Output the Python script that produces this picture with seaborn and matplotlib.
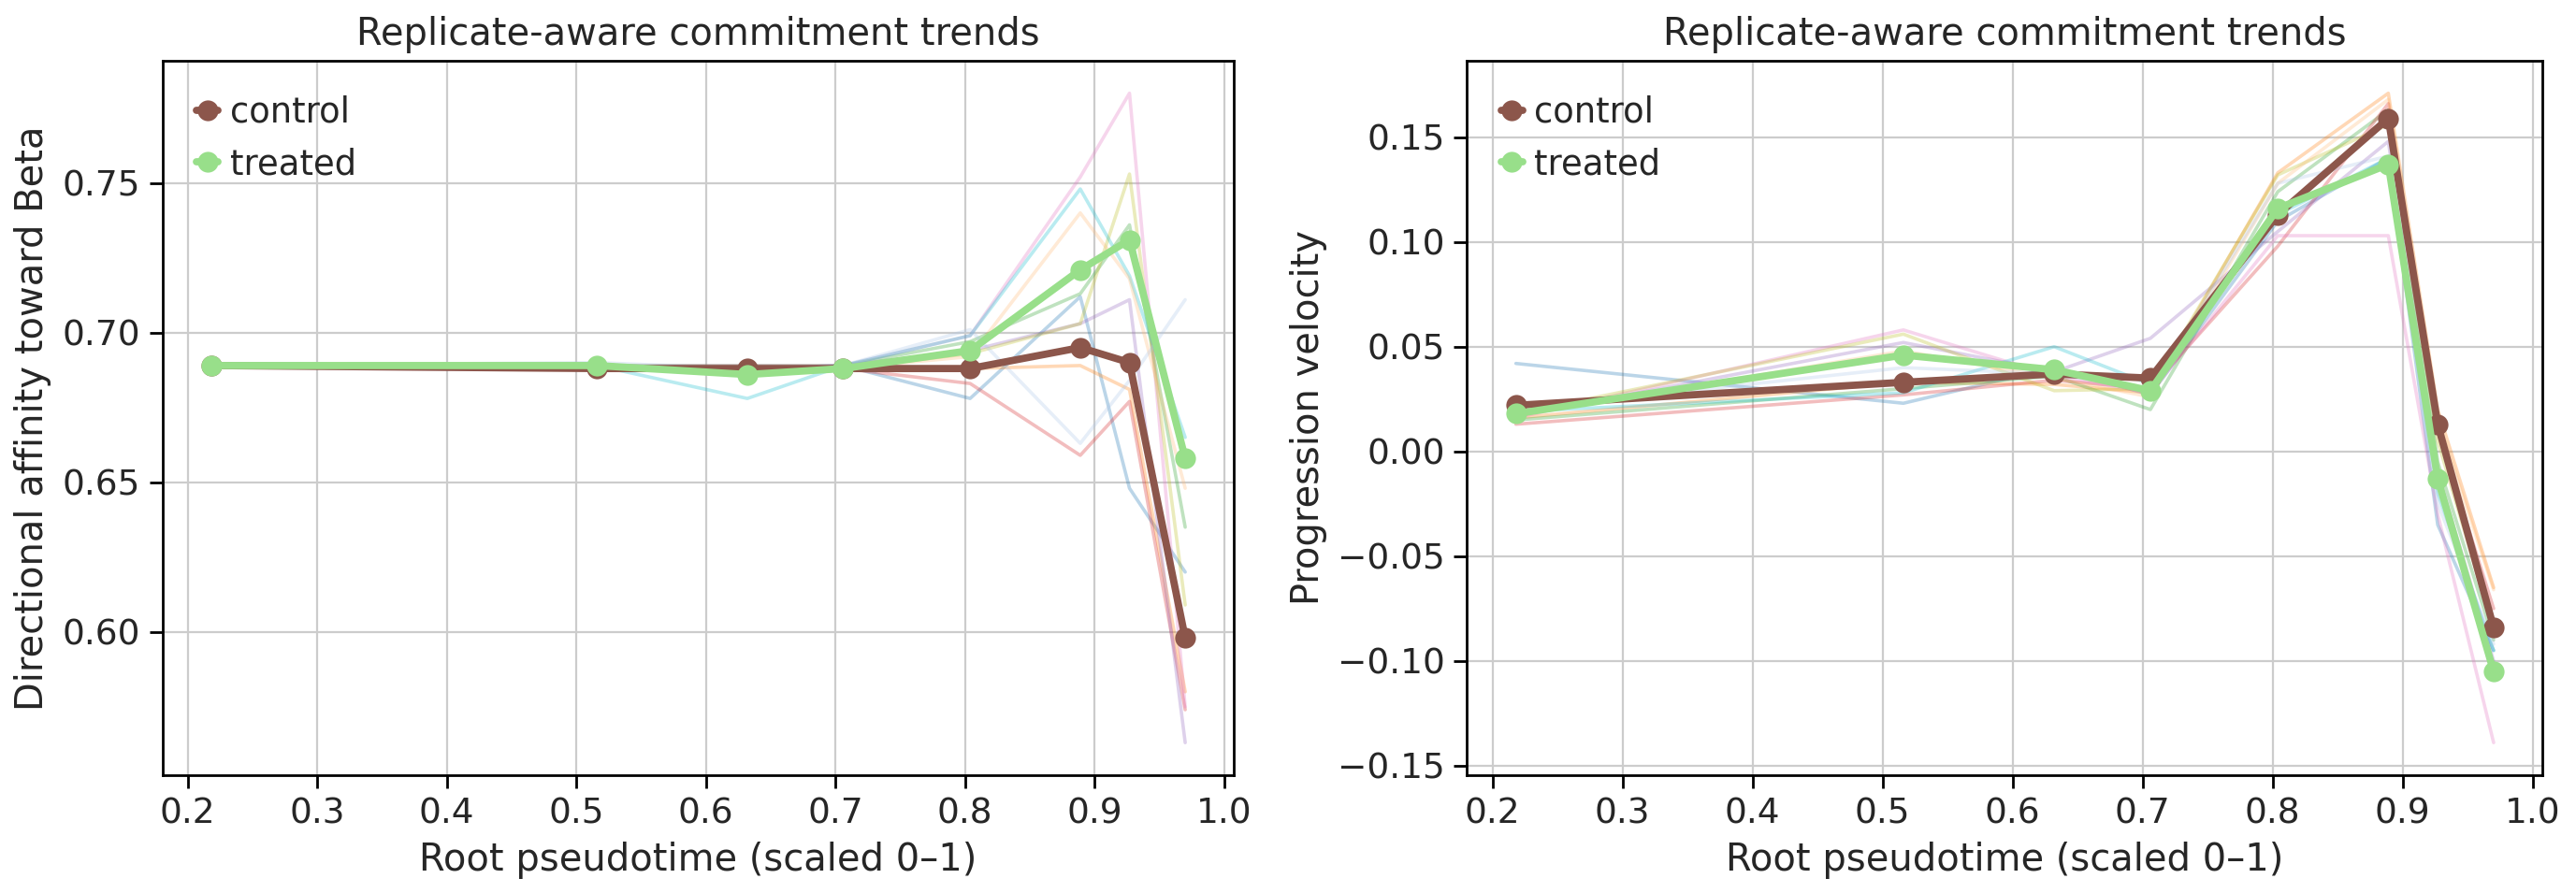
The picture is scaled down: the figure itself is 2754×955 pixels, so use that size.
import numpy as np
import pandas as pd
import matplotlib
matplotlib.use("Agg")
import matplotlib.pyplot as plt
import seaborn as sns

# pseudotime bins (scaled 0-1)
pseudotime = [0.218, 0.516, 0.632, 0.706, 0.804, 0.889, 0.927, 0.970]

# condition means
affinity_control = [0.689, 0.688, 0.688, 0.688, 0.688, 0.695, 0.690, 0.598]
affinity_treated = [0.689, 0.689, 0.686, 0.688, 0.694, 0.721, 0.731, 0.658]
velocity_control = [0.022, 0.033, 0.037, 0.035, 0.113, 0.159, 0.013, -0.084]
velocity_treated = [0.018, 0.046, 0.039, 0.029, 0.116, 0.137, -0.013, -0.105]

# individual replicate traces (faint)
rep_colors = ["#1f77b4", "#ff7f0e", "#2ca02c", "#d62728", "#9467bd",
              "#e377c2", "#bcbd22", "#17becf", "#ffbb78", "#aec7e8"]

affinity_reps = [
    [0.689, 0.689, 0.688, 0.689, 0.678, 0.712, 0.648, 0.620],  # blue
    [0.689, 0.688, 0.688, 0.688, 0.688, 0.689, 0.681, 0.580],  # orange
    [0.689, 0.689, 0.689, 0.689, 0.697, 0.713, 0.736, 0.635],  # green
    [0.689, 0.688, 0.688, 0.688, 0.683, 0.659, 0.677, 0.574],  # red
    [0.689, 0.689, 0.688, 0.689, 0.694, 0.703, 0.711, 0.563],  # purple
    [0.689, 0.689, 0.689, 0.689, 0.699, 0.752, 0.780, 0.575],  # pink
    [0.689, 0.689, 0.688, 0.688, 0.693, 0.703, 0.753, 0.609],  # olive
    [0.689, 0.689, 0.678, 0.689, 0.699, 0.748, 0.719, 0.665],  # cyan
    [0.689, 0.688, 0.688, 0.688, 0.692, 0.740, 0.718, 0.648],  # peach
    [0.689, 0.690, 0.688, 0.689, 0.701, 0.663, 0.684, 0.711],  # light blue
]

velocity_reps = [
    [0.042, 0.023, 0.040, 0.027, 0.110, 0.140, -0.035, -0.095],
    [0.016, 0.033, 0.032, 0.028, 0.133, 0.171, 0.020, -0.065],
    [0.015, 0.030, 0.036, 0.020, 0.124, 0.163, -0.005, -0.090],
    [0.013, 0.027, 0.034, 0.030, 0.098, 0.166, 0.010, -0.075],
    [0.017, 0.052, 0.038, 0.054, 0.105, 0.148, -0.010, -0.100],
    [0.016, 0.058, 0.036, 0.028, 0.103, 0.103, -0.030, -0.139],
    [0.018, 0.056, 0.029, 0.030, 0.132, 0.156, 0.005, -0.085],
    [0.019, 0.028, 0.050, 0.032, 0.113, 0.140, -0.020, -0.095],
    [0.017, 0.048, 0.035, 0.026, 0.128, 0.168, 0.015, -0.066],
    [0.020, 0.040, 0.037, 0.030, 0.128, 0.141, -0.025, -0.092],
]

sns.set_style("whitegrid", rc={"axes.edgecolor": "black",
                               "xtick.bottom": True, "ytick.left": True,
                               "grid.color": "#cccccc"})
plt.rcParams["font.family"] = ["DejaVu Sans"]

fig, axes = plt.subplots(1, 2, figsize=(13.77, 4.775), dpi=200)
axes[0].set_position([0.063, 0.132, 0.416, 0.800])
axes[1].set_position([0.5695, 0.132, 0.4175, 0.800])

panels = [
    (axes[0], affinity_reps, affinity_control, affinity_treated,
     "Directional affinity toward Beta"),
    (axes[1], velocity_reps, velocity_control, velocity_treated,
     "Progression velocity"),
]

for ax, reps, ctrl, trt, ylabel in panels:
    for vals, col in zip(reps, rep_colors):
        sns.lineplot(x=pseudotime, y=vals, ax=ax, color=col, alpha=0.3,
                     linewidth=1.3, legend=False)
    sns.lineplot(x=pseudotime, y=ctrl, ax=ax, color="#8c564b", marker="o",
                 markersize=8, markeredgewidth=0, linewidth=2.8, label="control")
    sns.lineplot(x=pseudotime, y=trt, ax=ax, color="#98df8a", marker="o",
                 markersize=8, markeredgewidth=0, linewidth=2.8, label="treated")
    ax.set_title("Replicate-aware commitment trends", fontsize=14.4)
    ax.set_xlabel("Root pseudotime (scaled 0–1)", fontsize=14.4)
    ax.set_ylabel(ylabel, fontsize=14.4)
    ax.tick_params(labelsize=13.5, length=5, width=1, color="black")
    ax.set_xticks([0.2, 0.3, 0.4, 0.5, 0.6, 0.7, 0.8, 0.9, 1.0])
    for s in ax.spines.values():
        s.set_linewidth(1.0)
    ax.legend(loc="upper left", frameon=False, fontsize=13.3,
              handlelength=0.6, handletextpad=0.35, borderaxespad=0.6)

axes[1].set_yticks([-0.15, -0.10, -0.05, 0.00, 0.05, 0.10, 0.15])

plt.savefig("out.png", dpi=200)
